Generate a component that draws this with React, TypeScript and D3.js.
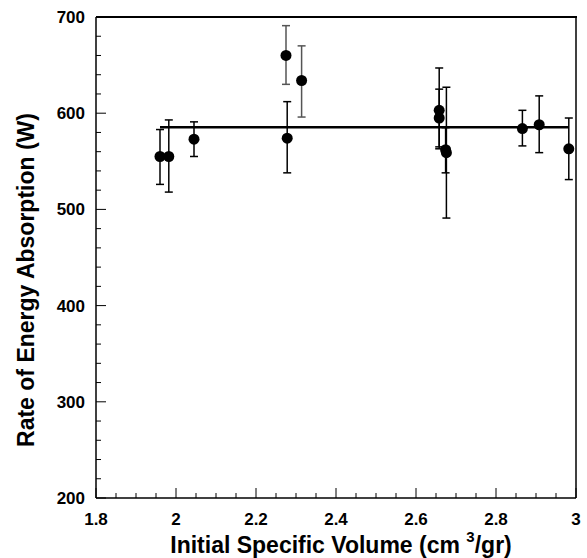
import React from "react";
import * as d3 from "d3";

const xValues = [1.96, 1.982, 2.045, 2.275, 2.278, 2.314, 2.658, 2.658, 2.674, 2.676, 2.866, 2.908, 2.982];
const yValues = [555, 555, 573, 660, 574, 634, 603, 595, 562, 559, 584, 588, 563];
const errLow = [526, 518, 555, 630, 538, 596, 563, 565, 538, 491, 566, 559, 531];
const errHigh = [583, 593, 591, 691, 612, 670, 647, 625, 585, 627, 603, 618, 595];
const grayBars = [false, false, false, true, false, true, false, false, false, false, false, false, false];
const fitValue = 585.5;
const xTicks = [1.8, 2, 2.2, 2.4, 2.6, 2.8, 3];
const yTicks = [200, 300, 400, 500, 600, 700];

const W = 587, H = 558;
const left = 96, right = 576, top = 17, bottom = 498;
const FONT = "'Liberation Sans', Arial, sans-serif";

export default function App() {
  const x = d3.scaleLinear().domain([1.8, 3]).range([left, right]);
  const y = d3.scaleLinear().domain([200, 700]).range([bottom, top]);
  const xMinor = d3.range(1.8, 3.0001, 0.05);
  const yMinor = d3.range(200, 700.001, 20);
  const fitX0 = d3.min(xValues)!;
  const fitX1 = d3.max(xValues)!;
  const fitLine = d3.line<[number, number]>().x(d => x(d[0])).y(d => y(d[1]));

  return (
    <svg width={W} height={H} style={{ position: "absolute", left: 0, top: 0, background: "#fff" }}>
      <rect x={0} y={0} width={W} height={H} fill="#fff" />
      <line x1={left} y1={top} x2={right + 1} y2={top} stroke="#000" strokeWidth={2} />
      <line x1={right} y1={top} x2={right} y2={bottom} stroke="#000" strokeWidth={1.5} />
      <line x1={left} y1={top} x2={left} y2={bottom} stroke="#000" strokeWidth={1.5} />
      <line x1={left} y1={bottom} x2={right} y2={bottom} stroke="#000" strokeWidth={1.5} />
      {xMinor.map((v, i) => {
        const major = i % 4 === 0;
        return <line key={"xm" + i} x1={x(v)} x2={x(v)} y1={bottom} y2={bottom - (major ? 10 : 5)} stroke="#000" strokeWidth={1} />;
      })}
      {yMinor.map((v, i) => {
        const major = i % 5 === 0;
        return <line key={"ym" + i} x1={left} x2={left + (major ? 10 : 5)} y1={y(v)} y2={y(v)} stroke="#000" strokeWidth={1} />;
      })}
      {xTicks.map(v => (
        <text key={"xt" + v} x={x(v)} y={525} textAnchor="middle" fontFamily={FONT} fontWeight="bold" fontSize={17}>{String(v)}</text>
      ))}
      {yTicks.map(v => (
        <text key={"yt" + v} x={85} y={y(v) + 6} textAnchor="end" fontFamily={FONT} fontWeight="bold" fontSize={17}>{String(v)}</text>
      ))}
      <path d={fitLine([[fitX0, fitValue], [fitX1, fitValue]]) || ""} stroke="#000" strokeWidth={2.5} fill="none" />
      {xValues.map((xv, i) => {
        const c = grayBars[i] ? "#555" : "#000";
        return (
          <g key={"e" + i} stroke={c} strokeWidth={1.5}>
            <line x1={x(xv)} x2={x(xv)} y1={y(errLow[i])} y2={y(errHigh[i])} />
            <line x1={x(xv) - 4} x2={x(xv) + 4} y1={y(errLow[i])} y2={y(errLow[i])} />
            <line x1={x(xv) - 4} x2={x(xv) + 4} y1={y(errHigh[i])} y2={y(errHigh[i])} />
          </g>
        );
      })}
      {xValues.map((xv, i) => (
        <circle key={"p" + i} cx={x(xv)} cy={y(yValues[i])} r={5.5} fill="#000" />
      ))}
      <text transform={`translate(34,280) rotate(-90)`} textAnchor="middle" fontFamily={FONT} fontWeight="bold" fontSize={23}>Rate of Energy Absorption (W)</text>
      <text x={341} y={553} textAnchor="middle" fontFamily={FONT} fontWeight="bold" fontSize={23}>
        Initial Specific Volume (cm <tspan dy={-11} fontSize={15}>3</tspan><tspan dy={11}>/gr)</tspan>
      </text>
    </svg>
  );
}
